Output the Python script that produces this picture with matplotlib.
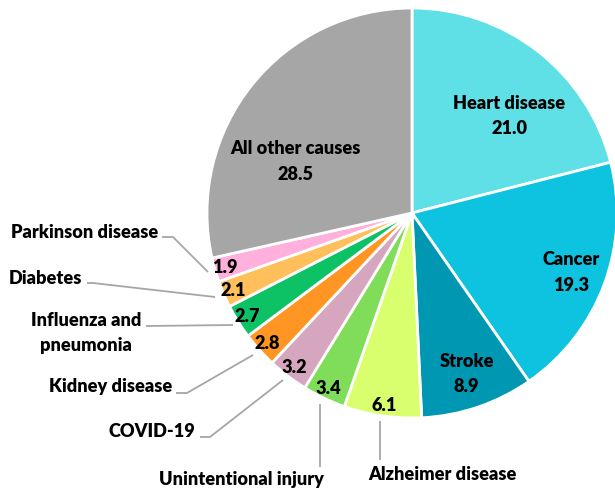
import numpy as np
import matplotlib
matplotlib.use("Agg")
import matplotlib.pyplot as plt

matplotlib.rcParams["font.family"] = ["Lato", "DejaVu Sans"]
matplotlib.rcParams["font.weight"] = "bold"

# -------------------- data --------------------
causes = ["Heart disease", "Cancer", "Stroke", "Alzheimer disease",
          "Unintentional injury", "COVID-19", "Kidney disease",
          "Influenza and\npneumonia", "Diabetes", "Parkinson disease",
          "All other causes"]
shares = [21.0, 19.3, 8.9, 6.1, 3.4, 3.2, 2.8, 2.7, 2.1, 1.9, 28.5]
colors = ["#5EE0E6", "#0DC3E0", "#0097B2", "#D9FF6E", "#80DD5A", "#D5A6BD",
          "#FF9522", "#0DC165", "#FFBF5A", "#FFB0DC", "#A6A6A6"]

# -------------------- layout (pixel coords, y down) --------------------
W, H = 615, 493
CX, CY, R = 412, 213, 205
FS = 13.1
WT = "heavy"
LINE_C = "#A6A6A6"

# slices labelled inside: (radial fraction, angle from top in deg or None)
inside = {0: (0.67, 45), 1: (0.83, None), 2: (0.83, None), 10: (0.62, 294)}
# slices labelled outside: text anchor, alignment, leader polyline
outside = {
    3: ((442, 480), "center", [(380, 421), (380, 460)]),
    4: ((241, 485), "center", [(320, 404), (320, 467)]),
    5: ((195, 437), "right", [(283, 380), (210, 437), (200, 437)]),
    6: ((172, 392), "right", [(253, 355), (187, 393), (176, 393)]),
    7: ((86, 333), "center", [(233, 325), (146, 326)]),
    8: ((82, 284), "right", [(215, 297), (93, 283), (87, 283)]),
    9: ((158, 238), "right", [(208, 272), (173, 237), (162, 237)]),
}


def px(x, y):
    return x, H - y


fig = plt.figure(figsize=(W / 100, H / 100), dpi=100)
ax = fig.add_axes([0, 0, 1, 1])

ax.pie(shares, colors=colors, startangle=90, counterclock=False,
       center=px(CX, CY), radius=R,
       wedgeprops=dict(edgecolor="white", linewidth=2.0))

total = sum(shares)
cum = np.cumsum([0] + shares[:-1])
for i, (name, val) in enumerate(zip(causes, shares)):
    mid = (cum[i] + val / 2) / total * 2 * np.pi  # clockwise from top
    frac, ang = inside.get(i, (0.95, None))
    if ang is not None:
        mid = np.deg2rad(ang)
    tx = CX + frac * R * np.sin(mid)
    ty = CY - frac * R * np.cos(mid)
    text = f"{name}\n{val:.1f}" if i in inside else f"{val:.1f}"
    ax.text(*px(tx, ty), text, ha="center", va="center", fontsize=FS,
            fontweight=WT, linespacing=1.6, color="black")

for i, (pos, ha, pts) in outside.items():
    xs, ys = zip(*[px(x, y) for x, y in pts])
    ax.plot(xs, ys, color=LINE_C, lw=1.3, solid_capstyle="butt")
    if "\n" in causes[i]:
        ax.text(*px(*pos), causes[i], ha=ha, va="center", fontsize=FS,
                fontweight=WT, linespacing=1.5, multialignment="center")
    else:
        ax.text(*px(*pos), causes[i], ha=ha, va="baseline", fontsize=FS,
                fontweight=WT)

ax.set_xlim(0, W)
ax.set_ylim(0, H)
ax.set_aspect("equal")
ax.axis("off")
fig.savefig("out.png", dpi=100)
